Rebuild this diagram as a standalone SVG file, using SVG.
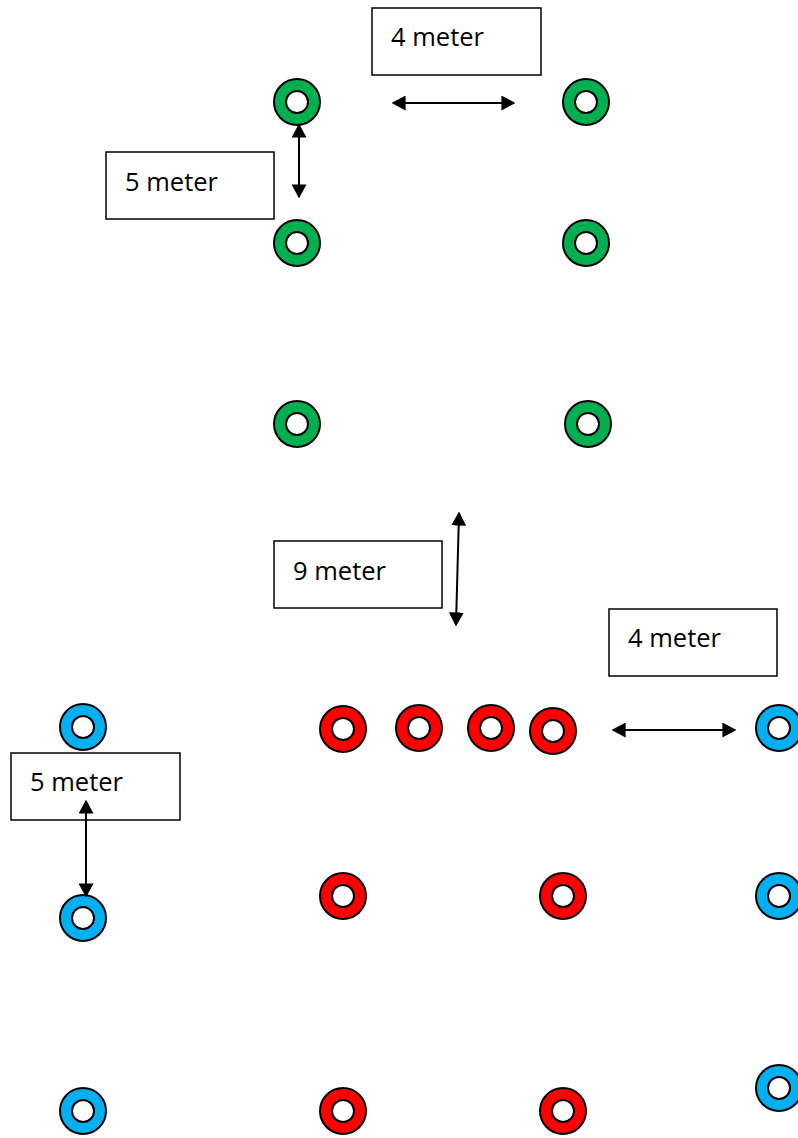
<svg xmlns="http://www.w3.org/2000/svg" xmlns:xlink="http://www.w3.org/1999/xlink" width="798" height="1138" viewBox="0 0 798 1138">
<style>
.ring{stroke:#000;stroke-width:2;fill-rule:evenodd}
.g{fill:#00B050}.r{fill:#FF0000}.b{fill:#00B0F0}
.box{fill:#fff;stroke:#000;stroke-width:1.5}
.lbl{font-family:"Open Sans","Liberation Sans",sans-serif;font-size:25.5px;fill:#000}
.arr{stroke:#000;stroke-width:2;fill:none;marker-start:url(#ah);marker-end:url(#ah)}
</style>
<defs>
<marker id="ah" viewBox="0 0 10 10" refX="9" refY="5" markerWidth="7" markerHeight="7.5" markerUnits="strokeWidth" orient="auto-start-reverse" preserveAspectRatio="none">
<path d="M0,0L10,5L0,10z" fill="#000"/>
</marker>
<path id="ring" d="M-23,0a23,23 0 1,0 46,0a23,23 0 1,0 -46,0zM-11,0a11,11 0 1,0 22,0a11,11 0 1,0 -22,0z"/>
</defs>
<rect width="798" height="1138" fill="#fff"/>
<g id="green-cones">
<use xlink:href="#ring" class="ring g" x="297" y="102"/>
<use xlink:href="#ring" class="ring g" x="586" y="102"/>
<use xlink:href="#ring" class="ring g" x="297" y="243"/>
<use xlink:href="#ring" class="ring g" x="586" y="243"/>
<use xlink:href="#ring" class="ring g" x="297" y="424"/>
<use xlink:href="#ring" class="ring g" x="588" y="424"/>
</g>
<g id="red-cones">
<use xlink:href="#ring" class="ring r" x="343" y="729"/>
<use xlink:href="#ring" class="ring r" x="419" y="728"/>
<use xlink:href="#ring" class="ring r" x="491" y="728"/>
<use xlink:href="#ring" class="ring r" x="553" y="731"/>
<use xlink:href="#ring" class="ring r" x="343" y="896"/>
<use xlink:href="#ring" class="ring r" x="563" y="896"/>
<use xlink:href="#ring" class="ring r" x="343" y="1111"/>
<use xlink:href="#ring" class="ring r" x="563" y="1111"/>
</g>
<g id="blue-cones">
<use xlink:href="#ring" class="ring b" x="83" y="727"/>
<use xlink:href="#ring" class="ring b" x="83" y="918"/>
<use xlink:href="#ring" class="ring b" x="83" y="1111"/>
<use xlink:href="#ring" class="ring b" x="779" y="728"/>
<use xlink:href="#ring" class="ring b" x="779" y="896"/>
<use xlink:href="#ring" class="ring b" x="779" y="1088"/>
</g>
<g id="label-4m-top">
<rect class="box" x="372" y="8" width="169" height="67"/>
<text class="lbl" x="391" y="46">4 meter</text>
</g>
<g id="label-5m-top">
<rect class="box" x="106" y="152" width="168" height="67"/>
<text class="lbl" x="125" y="191">5 meter</text>
</g>
<g id="label-9m">
<rect class="box" x="274" y="541" width="168" height="67"/>
<text class="lbl" x="293" y="580">9 meter</text>
</g>
<g id="label-4m-right">
<rect class="box" x="609" y="609" width="168" height="67"/>
<text class="lbl" x="628" y="647">4 meter</text>
</g>
<g id="label-5m-bottom">
<rect class="box" x="11" y="753" width="169" height="67"/>
<text class="lbl" x="30" y="791">5 meter</text>
</g>
<g id="connectors">
<line class="arr" x1="393" y1="103" x2="514" y2="103"/>
<line class="arr" x1="299" y1="125" x2="299" y2="197"/>
<line class="arr" x1="459" y1="513" x2="456" y2="625"/>
<line class="arr" x1="613" y1="730" x2="735" y2="730"/>
<line class="arr" x1="86" y1="801" x2="86" y2="896"/>
</g>
</svg>
